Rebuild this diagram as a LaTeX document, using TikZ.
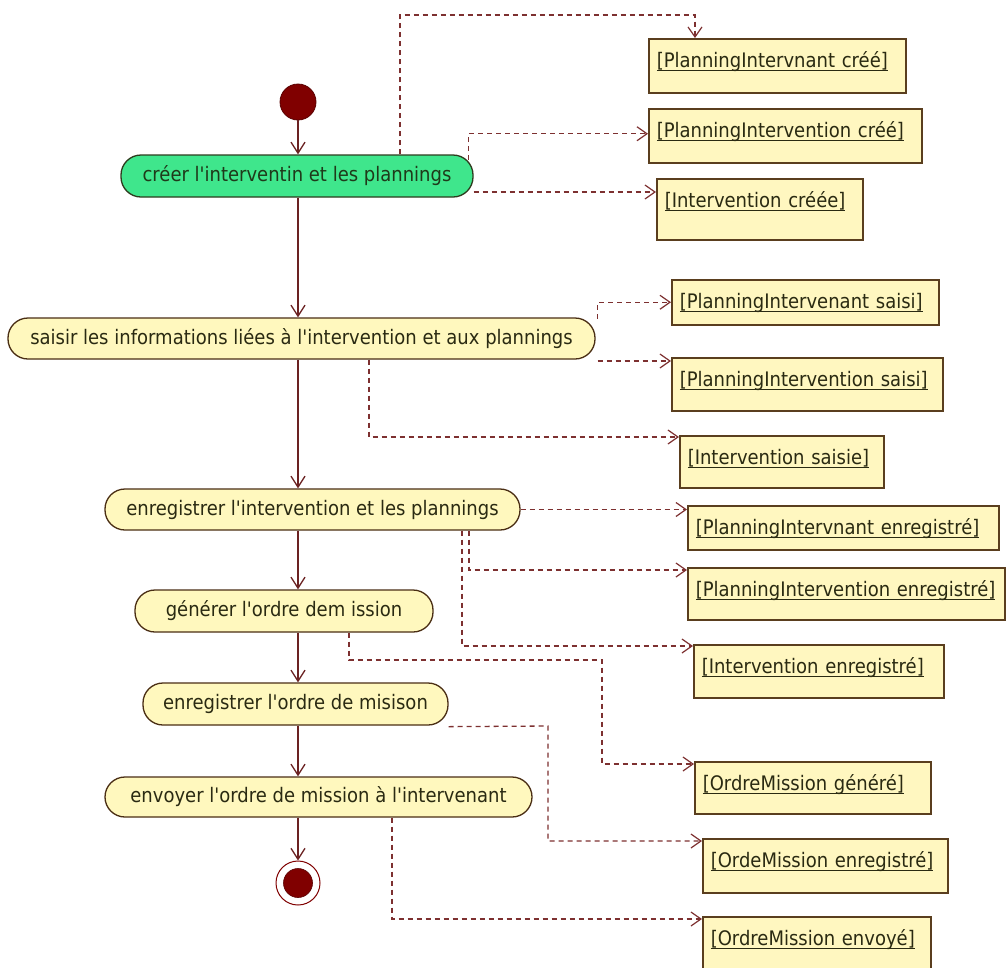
\documentclass[tikz,border=0pt]{standalone}
\usepackage{fontspec}
\newfontfamily\diafont[FakeStretch=0.9]{DejaVu Sans}
\usetikzlibrary{arrows.meta,calc}
\definecolor{actf}{HTML}{FFF8BE}
\definecolor{actb}{HTML}{4A2E14}
\definecolor{greenf}{HTML}{3FE68C}
\definecolor{greenb}{HTML}{2E3B1E}
\definecolor{objf}{HTML}{FFF7C0}
\definecolor{objb}{HTML}{5A3E1E}
\definecolor{flowc}{HTML}{6B2222}
\definecolor{depc}{HTML}{7D3030}
\definecolor{dotc}{HTML}{800000}
\definecolor{txtc}{HTML}{2A2A12}
\definecolor{greentxt}{HTML}{1F3A1A}
\newcommand{\myul}[1]{\setbox0\hbox{#1}\rlap{\rule[-3pt]{\wd0}{1.2pt}}\box0}
\begin{document}
\begin{tikzpicture}[x=1pt,y=-1pt,
  font=\diafont\fontsize{20}{24}\selectfont,
  act/.style={draw=actb, fill=actf, rounded corners=20pt, line width=1.3pt,
    minimum height=41pt, inner sep=0pt, text=txtc},
  greenact/.style={act, fill=greenf, draw=greenb, text=greentxt},
  obj/.style={draw=objb, fill=objf, line width=1.5pt, anchor=north west,
    inner xsep=8pt, inner ysep=0pt, align=left, text height=29pt, text=txtc},
  startdot/.style={circle, fill=dotc, draw=dotc!70!black, line width=0.8pt,
    minimum size=36pt, inner sep=0pt},
  endring/.style={circle, fill=white, draw=dotc, line width=1pt,
    minimum size=44pt, inner sep=0pt},
  enddot/.style={circle, fill=dotc, draw=dotc!70!black, line width=0.6pt,
    minimum size=29pt, inner sep=0pt},
  flow/.style={draw=flowc, line width=1.4pt,
    -{Straight Barb[length=11pt,width=14pt,line width=1.3pt]}},
  dep/.style={draw=depc, line width=1.3pt, dash pattern=on 5pt off 4pt,
    -{Straight Barb[length=10pt,width=14pt,line width=1.2pt]}}
]
\useasboundingbox (0,0) rectangle (1007,967);
\fill[white] (0,0) rectangle (1007,967);

% activities
\node[startdot] (start) at (298,102) {};
\node[greenact, minimum width=352pt, minimum height=42pt] (act1) at (297,176) {créer l'interventin et les plannings};
\node[act, minimum width=587pt] (act2) at (301.5,338.5) {saisir les informations liées à l'intervention et aux plannings};
\node[act, minimum width=415pt] (act3) at (312.5,509.5) {enregistrer l'intervention et les plannings};
\node[act, minimum width=298pt, minimum height=42pt] (act4) at (284,611) {générer l'ordre dem ission};
\node[act, minimum width=305pt, minimum height=42pt] (act5) at (295.5,704) {enregistrer l'ordre de misison};
\node[act, minimum width=427pt, minimum height=40pt] (act6) at (318.5,797) {envoyer l'ordre de mission à l'intervenant};
\node[endring] (final) at (298,883) {};
\node[enddot] (finalin) at (final) {};

% objects
\node[obj, text width=241pt, text depth=25pt] (o1) at (648,38) {\myul{[PlanningIntervnant créé]}};
\node[obj, text width=257pt, text depth=25pt] (o2) at (648,108) {\myul{[PlanningIntervention créé]}};
\node[obj, text width=190pt, text depth=32pt] (o3) at (656,178) {\myul{[Intervention créée]}};
\node[obj, text width=251pt, text depth=16pt] (o4) at (671,279) {\myul{[PlanningIntervenant saisi]}};
\node[obj, text width=255pt, text depth=24pt] (o5) at (671,357) {\myul{[PlanningIntervention saisi]}};
\node[obj, text width=188pt, text depth=23pt] (o6) at (679,435) {\myul{[Intervention saisie]}};
\node[obj, text width=295pt, text depth=15pt] (o7) at (687,505) {\myul{[PlanningIntervnant enregistré]}};
\node[obj, text width=301pt, text depth=23pt] (o8) at (687,567) {\myul{[PlanningIntervention enregistré]}};
\node[obj, text width=234pt, text depth=24pt] (o9) at (693,644) {\myul{[Intervention enregistré]}};
\node[obj, text width=220pt, text depth=23pt] (o10) at (694,761) {\myul{[OrdreMission généré]}};
\node[obj, text width=229pt, text depth=25pt] (o11) at (702,838) {\myul{[OrdeMission enregistré]}};
\node[obj, text width=212pt, text depth=31pt] (o12) at (702,916) {\myul{[OrdreMission envoyé]}};

% control flow
\draw[flow] (start.south) -- (start.south |- act1.north);
\draw[flow] (act1.south -| start) -- (act2.north -| start);
\draw[flow] (act2.south -| start) -- (act3.north -| start);
\draw[flow] (act3.south -| start) -- (act4.north -| start);
\draw[flow] (act4.south -| start) -- (act5.north -| start);
\draw[flow] (act5.south -| start) -- (act6.north -| start);
\draw[flow] (act6.south -| start) -- (final.north);

% object flows
\coordinate (b1) at (695,15);
\coordinate (b10) at (602,660);
\coordinate (b11) at (548,726);
\draw[dep] ([xshift=103pt]act1.north) |- (b1) -- (b1 |- o1.north);
\draw[dep] ([xshift=-5pt,yshift=16pt]act1.east) |- ([yshift=2pt]o2.west);
\draw[dep] ([yshift=-16pt]act1.east) -- ([yshift=-16pt]act1.east -| o3.west);
\draw[dep] ([xshift=2pt,yshift=20pt]act2.east) |- (o4.west);
\draw[dep] ([xshift=2pt,yshift=-22.5pt]act2.east) -- ([yshift=-22.5pt]act2.east -| o5.west);
\draw[dep] ([xshift=67.5pt]act2.south) |- ([yshift=-2pt]o6.north west);
\draw[dep] (act3.east) -- (act3.east -| o7.west);
\draw[dep] ([xshift=156.5pt]act3.south) |- ([yshift=-3pt]o8.north west);
\draw[dep] ([xshift=149.5pt]act3.south) |- ([yshift=-2pt]o9.north west);
\draw[dep] ([xshift=65pt]act4.south) |- (b10) |- ([yshift=-3pt]o10.north west);
\draw[dep] ([yshift=-1pt]act5.south east) -- (b11) |- ([yshift=-3pt]o11.north west);
\draw[dep] ([xshift=73.5pt]act6.south) |- ([yshift=-3pt]o12.north west);
\end{tikzpicture}
\end{document}
